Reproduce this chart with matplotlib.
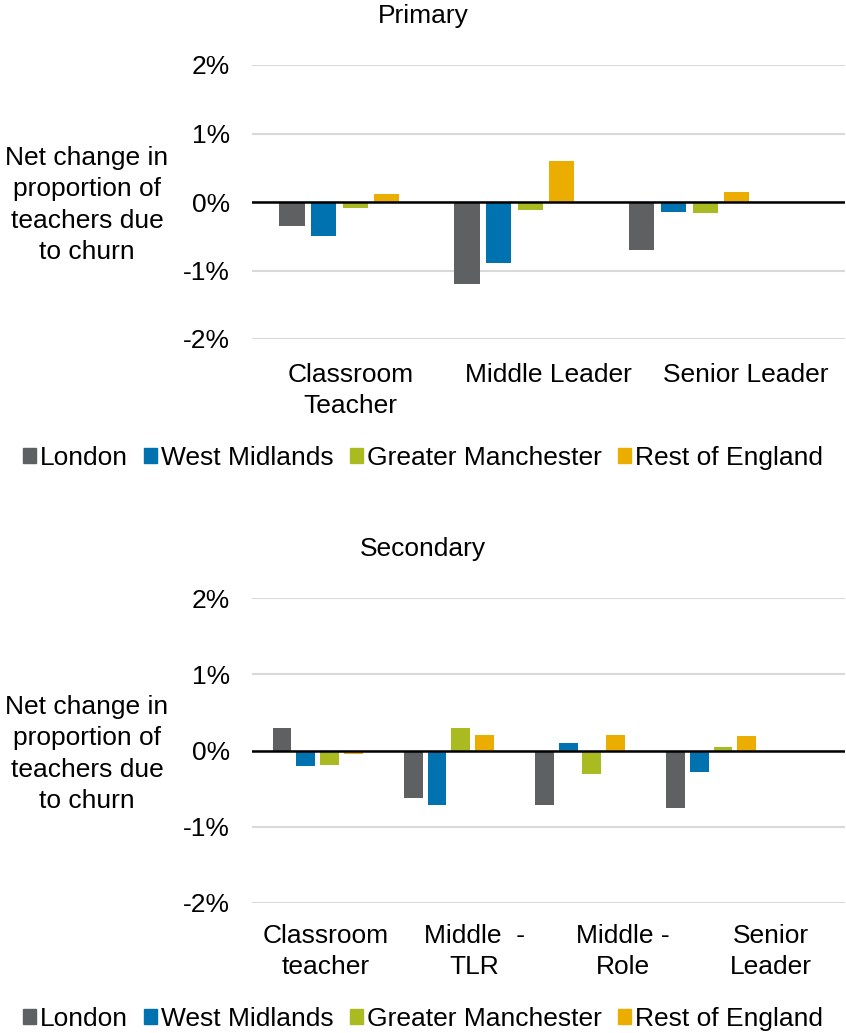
import numpy as np
import matplotlib.pyplot as plt

plt.rcParams['font.family'] = ['Liberation Sans', 'DejaVu Sans']

series = ["London", "West Midlands", "Greater Manchester", "Rest of England"]
colors = ["#5f6062", "#0072b0", "#aabb22", "#ebad00"]

primary_cats = ["Classroom\nTeacher", "Middle Leader", "Senior Leader"]
primary_vals = {
    "London": [-0.35, -1.20, -0.70],
    "West Midlands": [-0.50, -0.89, -0.14],
    "Greater Manchester": [-0.09, -0.12, -0.16],
    "Rest of England": [0.11, 0.60, 0.15],
}

secondary_cats = ["Classroom\nteacher", "Middle  -\nTLR", "Middle -\nRole", "Senior\nLeader"]
secondary_vals = {
    "London": [0.30, -0.62, -0.71, -0.75],
    "West Midlands": [-0.20, -0.71, 0.10, -0.28],
    "Greater Manchester": [-0.19, 0.29, -0.31, 0.04],
    "Rest of England": [-0.04, 0.20, 0.20, 0.19],
}

yticks = [-2, -1, 0, 1, 2]
ylabel = "Net change in\nproportion of\nteachers due\nto churn"

W, H = 846, 1033
fig = plt.figure(figsize=(W / 100, H / 100), dpi=100)
FS = 19
LS = 1.37

# bars in the source sit slightly compressed towards the left of the plot area
squeeze = 0.885
width = 0.127
step = 0.16


def draw(ax, cats, vals, title, title_y, ylab_y, xpad):
    n = len(cats)
    x = np.arange(n)
    for j, (s, c) in enumerate(zip(series, colors)):
        pos = squeeze * (x + 0.5) + (j - 1.5) * step
        ax.bar(pos, vals[s], width=width, color=c, zorder=3)
    ax.set_xlim(0, n)
    ax.set_ylim(-2, 2)
    ax.set_yticks(yticks)
    ax.set_yticklabels([f"{t}%" for t in yticks], fontsize=FS)
    ax.set_xticks(x + 0.5)
    ax.set_xticklabels(cats, fontsize=FS, linespacing=LS)
    ax.tick_params(axis="both", length=0)
    ax.tick_params(axis="x", pad=xpad)
    ax.tick_params(axis="y", pad=16)
    ax.grid(axis="y", color="#d9d9d9", lw=1.5, zorder=0)
    ax.axhline(0, color="black", lw=1.8, zorder=4)
    for sp in ax.spines.values():
        sp.set_visible(False)
    fig.text(0.5, 1 - title_y / H, title, ha="center", va="center", fontsize=FS)
    fig.text(87 / W, 1 - ylab_y / H, ylabel, ha="center", va="center",
             fontsize=FS, linespacing=LS)


left = 252 / W
right = 845 / W
ax1 = fig.add_axes([left, 1 - 339 / H, right - left, (339 - 65) / H])
draw(ax1, primary_cats, primary_vals, "Primary", 16, 205, 17)

ax2 = fig.add_axes([left, 1 - 903 / H, right - left, (903 - 598) / H])
draw(ax2, secondary_cats, secondary_vals, "Secondary", 549, 754, 15)

handles = [plt.Rectangle((0, 0), 1, 1, color=c) for c in colors]
for yy in (458, 1019):
    fig.legend(handles, series, loc="center", bbox_to_anchor=(0.5, 1 - yy / H),
               ncol=4, frameon=False, fontsize=FS, handlelength=0.5,
               handleheight=0.5, handletextpad=0.15, columnspacing=0.6)

fig.savefig("out.png", dpi=100)
